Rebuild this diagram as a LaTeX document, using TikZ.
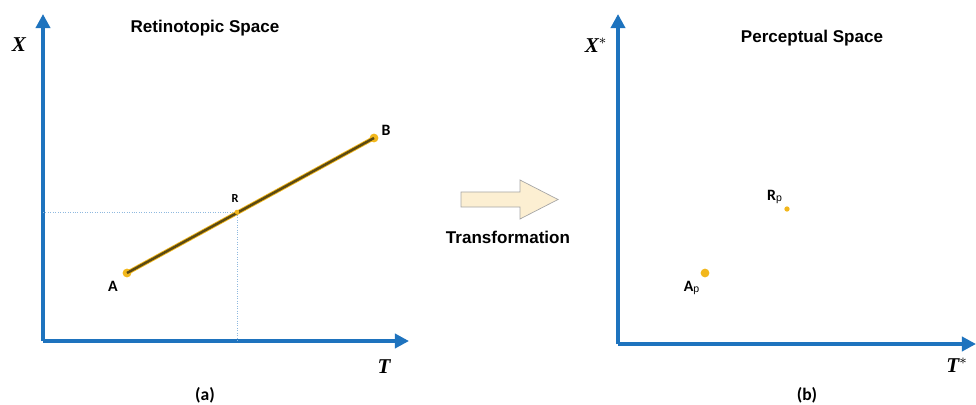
\documentclass[tikz,border=0pt]{standalone}
\usepackage{fontspec}
\setmainfont{Liberation Sans}
\newfontfamily\calib{Carlito}
\newfontfamily\tms{Liberation Serif}
\usetikzlibrary{arrows.meta}
\definecolor{axisblue}{HTML}{1E73BE}
\definecolor{dotgold}{HTML}{F2B71C}
\definecolor{olive}{HTML}{5C4A12}
\definecolor{beige}{HTML}{FCEFD2}
\begin{document}
\begin{tikzpicture}[x=0.02cm, y=-0.02cm,
    axis/.style={axisblue, line width=2.2pt, -{Triangle[length=8pt, width=8pt]}},
    guide/.style={axisblue!50, densely dotted, line width=0.4pt},
    pt/.style={circle, fill=dotgold, inner sep=0pt, minimum size=5pt},
    lbl/.style={font=\calib\bfseries\small},
    title/.style={font=\bfseries\fontsize{9.7}{11}\selectfont},
    var/.style={font=\tms\bfseries\itshape\large}]
    \useasboundingbox (0,0) rectangle (976,405);
    % retinotopic space
    \coordinate (o1) at (43,341);
    \coordinate (x1) at (43,14);
    \coordinate (t1) at (409,341);
    \draw[axis] (o1) -- (x1);
    \draw[axis] (o1) -- (t1);
    \node[var] (xl) at (19,45) {X};
    \node[var] (tl) at (384,367) {T};
    \node[title] (ret) at (205,28) {Retinotopic Space};
    \node[font=\calib\bfseries] (ca) at (205,395) {(a)};
    \coordinate (gx) at (43,212);
    \coordinate (gt) at (237,341);
    \node[pt] (a) at (127,273) {};
    \node[pt] (b) at (374,138) {};
    \coordinate (r) at (237,212);
    \draw[guide] (gx) -- (r) -- (gt);
    \draw[dotgold, line width=2.4pt] (a.center) -- (b.center);
    \draw[olive, line width=1.4pt] (a.center) -- (b.center);
    \fill[dotgold] (r) circle (1.3pt);
    \node[lbl] at (113,286) {A};
    \node[lbl] at (386,130) {B};
    \node[font=\calib\bfseries\scriptsize] at (235,199) {R};
    % transformation
    \filldraw[fill=beige, draw=black!35, line width=0.4pt]
        (461,192) -- (520,192) -- (520,180) -- (558,199.5) -- (520,219)
        -- (520,207) -- (461,207) -- cycle;
    \node[title] (tr) at (508,237) {Transformation};
    % perceptual space
    \coordinate (o2) at (618,344);
    \coordinate (x2) at (618,14);
    \coordinate (t2) at (976,344);
    \draw[axis] (o2) -- (x2);
    \draw[axis] (o2) -- (t2);
    \node[var] (xs) at (596,45) {X$^{*}$};
    \node[var] (ts) at (957,365) {T$^{*}$};
    \node[title] (per) at (812,38) {Perceptual Space};
    \node[font=\calib\bfseries] (cb) at (807,395) {(b)};
    \node[pt] (ap) at (705,273) {};
    \node[pt, minimum size=3pt] (rp) at (787,209) {};
    \node[lbl] at (692,288) {A$_{\mathrm{p}}$};
    \node[lbl] at (775,197) {R$_{\mathrm{p}}$};
\end{tikzpicture}
\end{document}
